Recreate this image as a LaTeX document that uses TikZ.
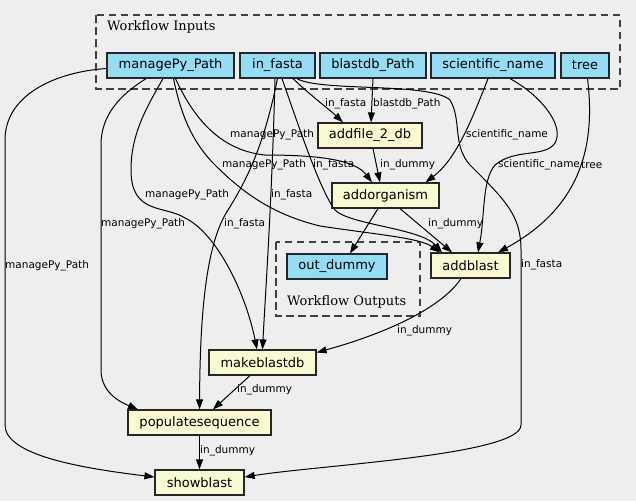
\documentclass[tikz,border=0pt]{standalone}
\usepackage{fontspec}
\setmainfont{DejaVu Sans}
\newfontfamily\clusterfont{DejaVu Serif}
\usetikzlibrary{arrows.meta}
\definecolor{bggray}{HTML}{EEEEEE}
\definecolor{inblue}{HTML}{94DDF4}
\definecolor{stepyellow}{HTML}{FAFAD2}

\begin{document}
\begin{tikzpicture}[x=1pt,y=1pt,
  io/.style={draw=black!85,line width=1.2pt,fill=inblue,minimum height=25pt,inner sep=0pt,font=\fontsize{13}{15}\selectfont},
  stepbox/.style={io,fill=stepyellow},
  lbl/.style={inner sep=0pt,anchor=west,font=\fontsize{10.5}{12}\selectfont},
  clus/.style={draw=black!75,line width=1.1pt,dash pattern=on 7.5pt off 4.5pt},
  clustext/.style={inner sep=0pt,anchor=west,font=\clusterfont\fontsize{13}{15}\selectfont},
  wire/.style={line width=1pt,-{Triangle[length=10pt,width=7pt]}}]
\fill [bggray] (0,0) rectangle (636,-501);
\useasboundingbox (0,0) rectangle (636,-501);
\draw [clus] (96,-15) rectangle (620,-89);
\node [clustext] (inlabel) at (107,-27) {Workflow Inputs};
\draw [clus] (276,-242) rectangle (420,-316);
\node [clustext] (outlabel) at (287,-302) {Workflow Outputs};
\node [io,minimum width=127pt] (managePy) at (170.5,-65.5) {managePy\_Path};
\node [io,minimum width=75pt] (infasta) at (277.5,-65.5) {in\_fasta};
\node [io,minimum width=106pt] (blastdb) at (373,-65.5) {blastdb\_Path};
\node [io,minimum width=124pt] (sciname) at (493,-65.5) {scientific\_name};
\node [io,minimum width=48pt] (tree) at (585,-65.5) {tree};
\node [io,minimum width=100pt] (outdummy) at (337,-266.5) {out\_dummy};
\node [stepbox,minimum width=104pt] (addfile) at (370,-135.5) {addfile\_2\_db};
\node [stepbox,minimum width=107pt] (addorganism) at (385.5,-195.5) {addorganism};
\node [stepbox,minimum width=79pt] (addblast) at (470.5,-265.5) {addblast};
\node [stepbox,minimum width=107pt] (makeblastdb) at (262.5,-362.5) {makeblastdb};
\node [stepbox,minimum width=143pt] (populateseq) at (199.5,-422.5) {populatesequence};
\node [stepbox,minimum width=89pt] (showblast) at (199.5,-482.5) {showblast};
\draw [wire] ([yshift=-3pt]managePy.west) .. controls (55,-72) and (5,-95) .. (5,-140) -- (5,-425) .. controls (5,-455) and (80,-468) .. ([yshift=5.5pt]showblast.west);
\draw [wire] ([xshift=-24.5pt]managePy.south) .. controls (120,-95) and (101,-115) .. (101,-145) -- (101,-370) .. controls (101,-395) and (125,-404) .. ([xshift=-61.5pt]populateseq.north);
\draw [wire] ([xshift=-7.5pt]managePy.south) .. controls (145,-110) and (131,-135) .. (131,-170) .. controls (131,-215) and (165,-205) .. (185,-218) .. controls (215,-232) and (245,-290) .. ([xshift=-5.5pt]makeblastdb.north);
\draw [wire] ([xshift=3pt]managePy.south) .. controls (180,-110) and (190,-140) .. (215,-165) .. controls (245,-195) and (275,-215) .. (320,-226) .. controls (380,-235) and (420,-238) .. ([xshift=-30.5pt]addblast.north);
\draw [wire] ([xshift=5pt]managePy.south) .. controls (190,-110) and (215,-150) .. (265,-155) .. controls (320,-155) and (355,-160) .. ([xshift=-13.5pt]addorganism.north);
\draw [wire] ([xshift=15.5pt]infasta.south) .. controls (310,-95) and (330,-110) .. ([xshift=-27pt]addfile.north);
\draw [wire] ([xshift=4.5pt]infasta.south) .. controls (300,-130) and (320,-190) .. (335,-210) .. controls (350,-225) and (420,-228) .. ([xshift=-28.5pt]addblast.north);
\draw [wire] ([xshift=-2.5pt]infasta.south) .. controls (272,-200) and (265,-300) .. (makeblastdb.north);
\draw [wire] (infasta.south) .. controls (265,-140) and (250,-175) .. (228,-210) .. controls (205,-245) and (200,-320) .. (populateseq.north);
\draw [wire] ([xshift=19.5pt]infasta.south) .. controls (320,-92) and (430,-82) .. (450,-100) .. controls (462,-120) and (452,-145) .. (470,-165) .. controls (505,-200) and (521,-215) .. (521,-250) -- (521,-425) .. controls (521,-455) and (320,-465) .. ([yshift=5.5pt]showblast.east);
\draw [wire] (blastdb.south) -- ([xshift=1pt]addfile.north);
\draw [wire] ([xshift=-5pt]sciname.south) .. controls (470,-125) and (455,-160) .. ([xshift=40pt]addorganism.north);
\draw [wire] ([xshift=17pt]sciname.south) .. controls (540,-95) and (565,-125) .. (555,-143) .. controls (545,-158) and (515,-148) .. (495,-165) .. controls (482,-180) and (485,-215) .. ([xshift=7.5pt]addblast.north);
\draw [wire] ([xshift=2.5pt]tree.south) .. controls (595,-140) and (585,-205) .. ([xshift=27.5pt]addblast.north);
\draw [wire] ([xshift=3pt]addfile.south) -- ([xshift=-5.5pt]addorganism.north);
\draw [wire] ([xshift=-7.5pt]addorganism.south) -- ([xshift=13pt]outdummy.north);
\draw [wire] ([xshift=14.5pt]addorganism.south) -- ([xshift=-18.5pt]addblast.north);
\draw [wire] ([xshift=-9.5pt]addblast.south) .. controls (440,-310) and (380,-335) .. ([yshift=10pt]makeblastdb.east);
\draw [wire] ([xshift=-12.5pt]makeblastdb.south) -- ([xshift=13.5pt]populateseq.north);
\draw [wire] (populateseq.south) -- (showblast.north);
\node [lbl] (l1) at (5,-266) {managePy\_Path};
\node [lbl] (l2) at (101,-224) {managePy\_Path};
\node [lbl] (l3) at (145,-195) {managePy\_Path};
\node [lbl] (l4) at (222,-165) {managePy\_Path};
\node [lbl] (l5) at (230,-135) {managePy\_Path};
\node [lbl] (l6) at (325,-104) {in\_fasta};
\node [lbl] (l7) at (313,-165) {in\_fasta};
\node [lbl] (l8) at (271,-195) {in\_fasta};
\node [lbl] (l9) at (224,-224) {in\_fasta};
\node [lbl] (l10) at (521,-265) {in\_fasta};
\node [lbl] (l11) at (373,-104) {blastdb\_Path};
\node [lbl] (l12) at (466,-135) {scientific\_name};
\node [lbl] (l13) at (498,-165) {scientific\_name};
\node [lbl] (l14) at (581,-165) {tree};
\node [lbl] (l15) at (380,-165) {in\_dummy};
\node [lbl] (l16) at (428,-224) {in\_dummy};
\node [lbl] (l17) at (397,-331) {in\_dummy};
\node [lbl] (l18) at (237,-390) {in\_dummy};
\node [lbl] (l19) at (200,-451) {in\_dummy};
\end{tikzpicture}
\end{document}
